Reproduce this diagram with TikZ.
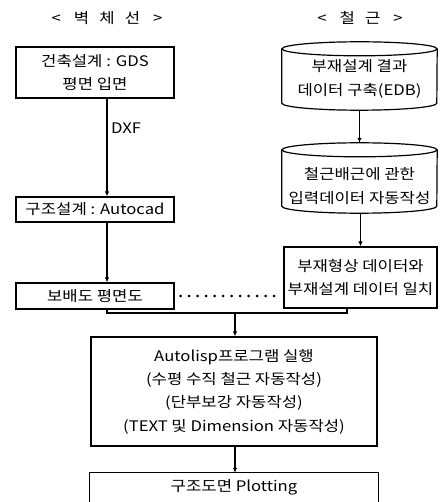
\documentclass[tikz,border=0pt]{standalone}
\usepackage{fontspec}
\setmainfont[FakeStretch=1.15]{Noto Sans CJK KR}
\usetikzlibrary{arrows.meta,calc}
\begin{document}
\begin{tikzpicture}[x=1pt,y=-1pt,
  ln/.style={line width=1.2pt},
  box/.style={draw,line width=1.2pt,inner sep=0pt,align=center,font=\fontsize{14.5}{23.3}\selectfont},
  txt/.style={inner sep=0pt,align=center,font=\fontsize{14.5}{23.3}\selectfont},
  hold/.style={inner sep=0pt},
  arr/.style={line width=1.2pt,-{Latex[length=5pt,width=4.5pt]}},
  dots/.style={line width=2.8pt,line cap=round,dash pattern=on 0pt off 8.5pt},
]
\useasboundingbox (0,0) rectangle (443,502);
% headers
\node[txt] (h1) at (107,18) {<\hspace{0.9em}벽\hspace{0.7em}체\hspace{0.7em}선\hspace{0.9em}>};
\node[txt] (h2) at (360,18) {<\hspace{0.9em}철\hspace{0.7em}근\hspace{0.9em}>};
% left column
\node[box,minimum width=158pt,minimum height=51pt] (b1) at (95,72.5) {건축설계 : GDS\\평면 입면};
\node[box,minimum width=158pt,minimum height=25pt] (b2) at (95,209.5) {구조설계 : Autocad};
\node[box,minimum width=158pt,minimum height=26pt] (b3) at (95,296) {보배도 평면도};
\coordinate (lx) at (107,0);
\draw[arr] (b1.south -| lx) -- (b2.north -| lx);
\node[txt,anchor=west] (dxf) at (111,128) {DXF};
\draw[arr] (b2.south -| lx) -- (b3.north -| lx);
% right column cylinders
\node[hold,minimum width=155pt,minimum height=68pt] (c1) at (359.5,76) {};
\node[hold,minimum width=155pt,minimum height=70pt] (c2) at (359.5,178) {};
\foreach \c in {c1,c2}{
  \draw[ln] ($(\c.north)+(0,7)$) ellipse[x radius=77.5,y radius=7];
  \draw[ln] ($(\c.north west)+(0,7)$) -- ($(\c.south west)+(0,-7)$)
     arc[start angle=180,end angle=0,x radius=77.5,y radius=7]
     -- ($(\c.north east)+(0,7)$);
}
\node[txt] (c1l) at ($(c1)+(0,3)$) {부재설계 결과\\데이터 구축(EDB)};
\node[txt] (c2l) at ($(c2)+(0,8)$) {철근배근에 관한\\입력데이터 자동작성};
\node[box,minimum width=153pt,minimum height=61pt] (b4) at (360.5,277.5) {부재형상 데이터와\\부재설계 데이터 일치};
\draw[arr] (c1.south) -- (c2.north);
\draw[arr] (c2.south -| b4.north) -- (b4.north);
% dotted link
\draw[dots] ($(b3.east)+(6,0)$) -- ($(b3.east -| b4.west)+(-6,0)$);
% junction
\coordinate (jl) at (107,313);
\coordinate (jr) at (347,313);
\coordinate (jx) at (235,313);
\draw[ln] (b3.south -| jl) -- (jl) -- (jr) -- (b4.south -| jr);
\node[box,minimum width=286pt,minimum height=109pt] (b5) at (234,391.5) {Autolisp프로그램 실행\\(수평 수직 철근 자동작성)\\(단부보강 자동작성)\\(TEXT 및 Dimension 자동작성)};
\draw[arr] (jx) -- (b5.north -| jx);
\node[txt,minimum width=288pt,minimum height=28pt] (b6) at (234,487) {구조도면 Plotting};
\draw[ln] ($(b6.south west)+(0,6)$) -- (b6.north west) -- (b6.north east) -- ($(b6.south east)+(0,6)$);
\draw[arr] (b5.south -| jx) -- (b6.north -| jx);
\end{tikzpicture}
\end{document}
